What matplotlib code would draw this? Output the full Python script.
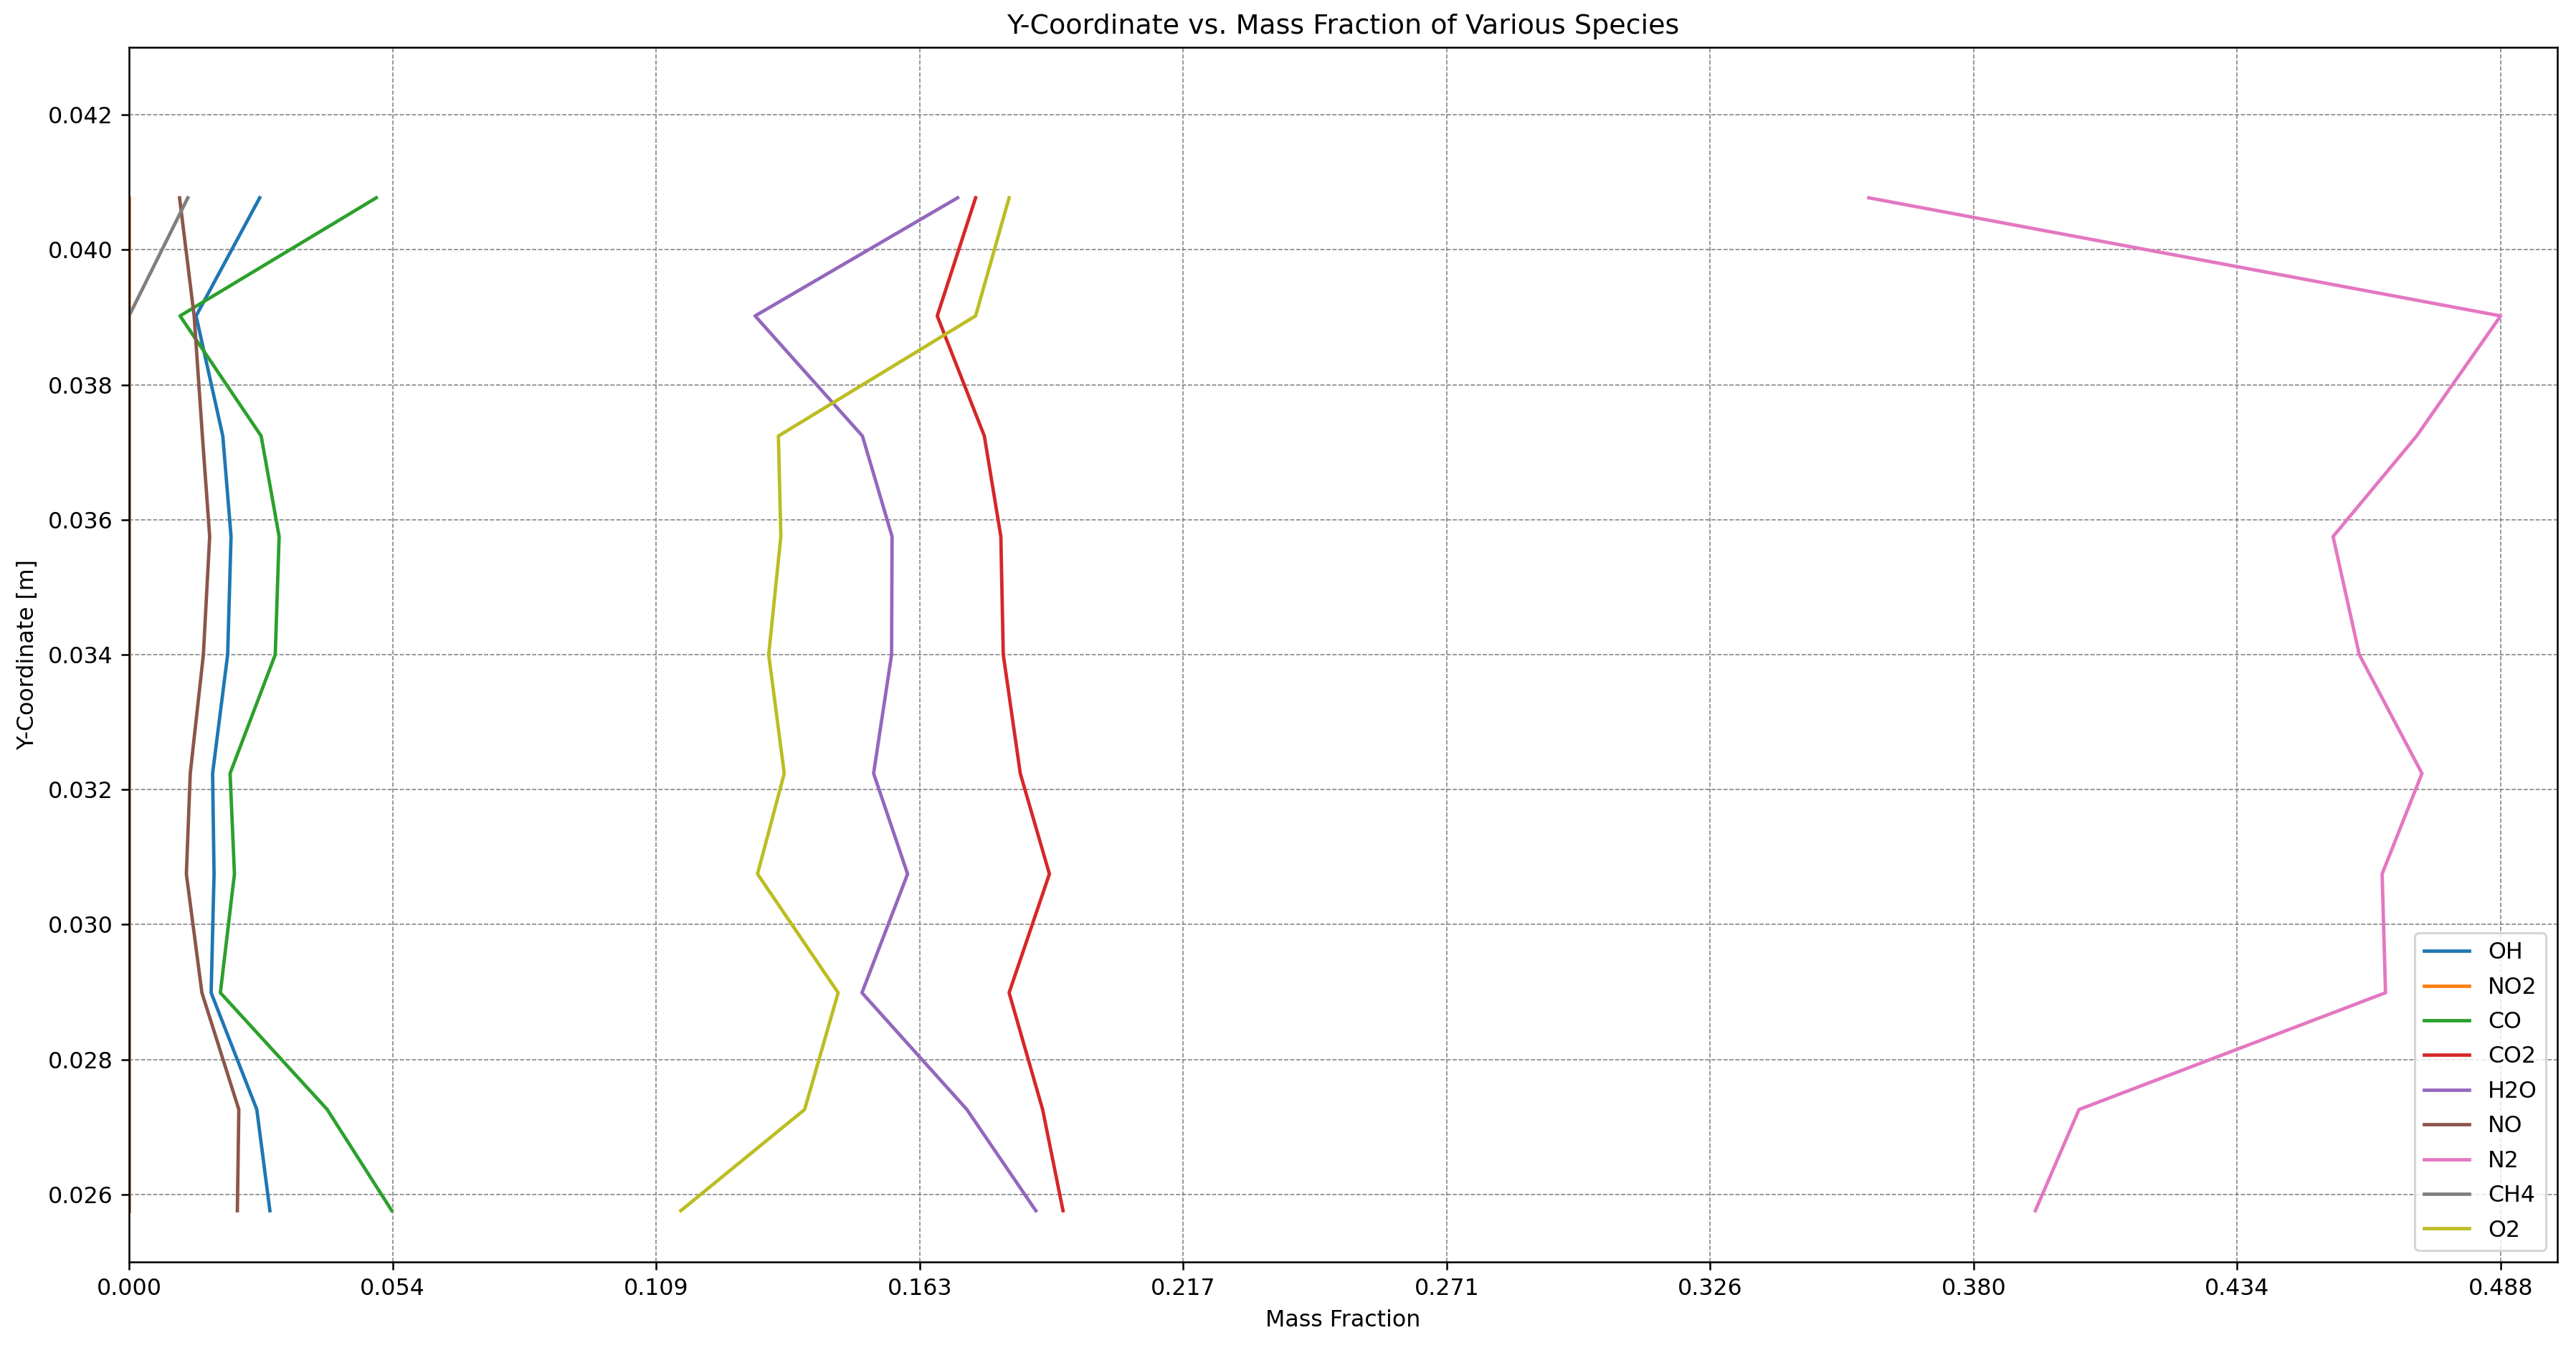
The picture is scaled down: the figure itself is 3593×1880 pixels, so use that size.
import numpy as np
import matplotlib
matplotlib.use("Agg")
import matplotlib.pyplot as plt

# y positions of the sampled cells (bottom to top)
y_coord = [0.02576, 0.02726, 0.02899, 0.03075, 0.03224, 0.03400, 0.03575, 0.03724, 0.03902, 0.04077]

species = ["OH", "NO2", "CO", "CO2", "H2O", "NO", "N2", "CH4", "O2"]

OH = [0.0290, 0.0263, 0.0169, 0.0175, 0.0172, 0.0203, 0.0210, 0.0193, 0.0138, 0.0269]
NO2 = [0.0, 0.0, 0.0, 0.0, 0.0, 0.0, 0.0, 0.0, 0.0, 0.0]
CO = [0.0541, 0.0408, 0.0188, 0.0217, 0.0208, 0.0301, 0.0309, 0.0272, 0.0105, 0.0509]
CO2 = [0.1923, 0.1881, 0.1812, 0.1895, 0.1835, 0.1800, 0.1795, 0.1761, 0.1664, 0.1743]
H2O = [0.1867, 0.1725, 0.1509, 0.1603, 0.1533, 0.1570, 0.1571, 0.1510, 0.1289, 0.1706]
NO = [0.0223, 0.0226, 0.0150, 0.0118, 0.0126, 0.0153, 0.0166, 0.0151, 0.0134, 0.0104]
N2 = [0.3925, 0.4015, 0.4646, 0.4639, 0.4721, 0.4592, 0.4538, 0.4710, 0.4883, 0.3582]
CH4 = [0.0, 0.0, 0.0, 0.0, 0.0, 0.0, 0.0, 0.0, 0.0, 0.0121]
O2 = [0.1136, 0.1391, 0.1460, 0.1294, 0.1349, 0.1317, 0.1342, 0.1337, 0.1743, 0.1812]

values = [OH, NO2, CO, CO2, H2O, NO, N2, CH4, O2]

dpi = 228
fig, ax = plt.subplots(figsize=(3593 / dpi, 1880 / dpi), dpi=dpi)
fig.subplots_adjust(left=0.0501, right=0.9928, top=0.9649, bottom=0.0638)

for name, vals in zip(species, values):
    ax.plot(vals, y_coord, label=name)

xmax = max(max(v) for v in values)
xt = np.linspace(0, xmax, 10)
ax.set_xticks(xt)
ax.set_xticklabels(["%.3f" % t for t in xt])
ax.set_xlim(0, 0.5)
ax.set_ylim(0.025, 0.043)

ax.set_xlabel("Mass Fraction")
ax.set_ylabel("Y-Coordinate [m]")
ax.set_title("Y-Coordinate vs. Mass Fraction of Various Species")
ax.grid(True, linestyle="--", linewidth=0.5, color="gray")
ax.legend(loc="lower right", labelspacing=0.55)

fig.savefig("out.png", dpi=dpi)
